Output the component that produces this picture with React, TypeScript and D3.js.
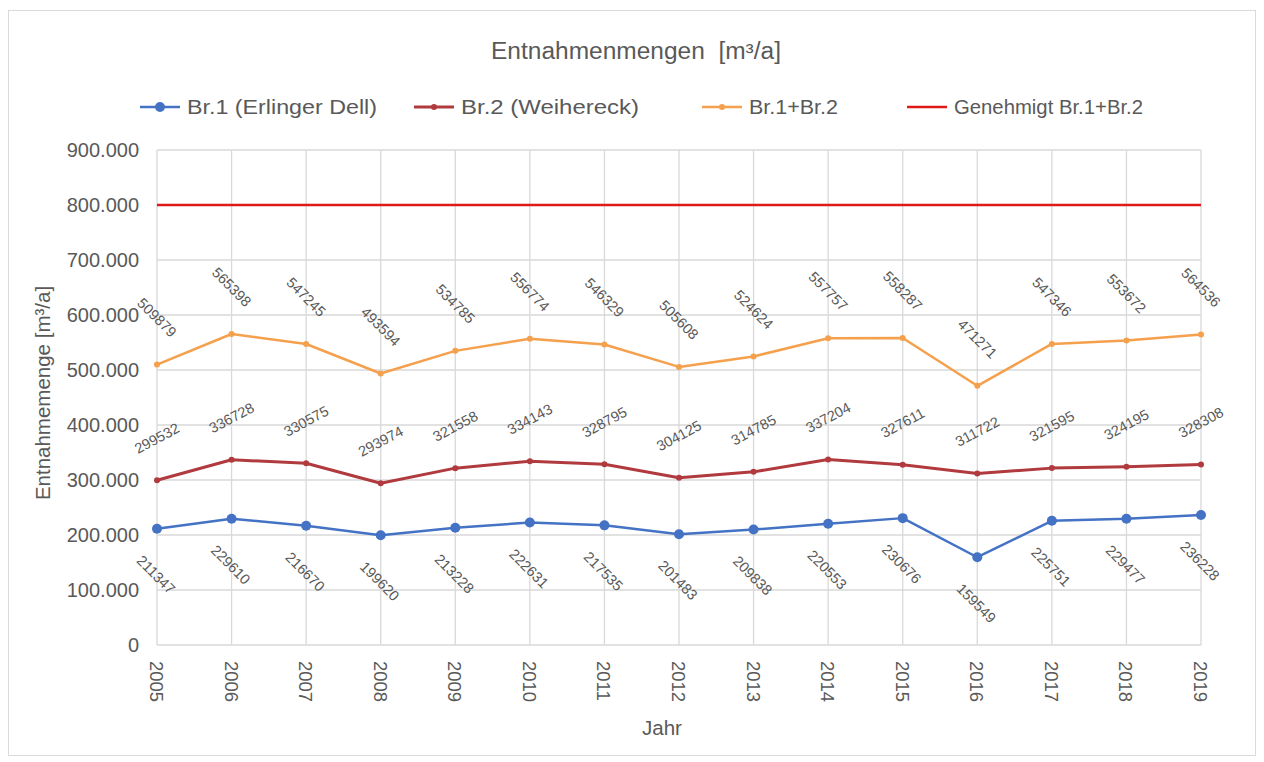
import React from "react";
import * as d3 from "d3";

const years = ["2005","2006","2007","2008","2009","2010","2011","2012","2013","2014","2015","2016","2017","2018","2019"];
const br1 = [211347, 229610, 216670, 199620, 213228, 222631, 217535, 201483, 209838, 220553, 230676, 159549, 225751, 229477, 236228];
const br2 = [299532, 336728, 330575, 293974, 321558, 334143, 328795, 304125, 314785, 337204, 327611, 311722, 321595, 324195, 328308];
const sum = [509879, 565398, 547245, 493594, 534785, 556774, 546329, 505608, 524624, 557757, 558287, 471271, 547346, 553672, 564536];
const approved = [800000, 800000, 800000, 800000, 800000, 800000, 800000, 800000, 800000, 800000, 800000, 800000, 800000, 800000, 800000];
const yTicks = [0, 100000, 200000, 300000, 400000, 500000, 600000, 700000, 800000, 900000];

const FONT = "'Liberation Sans', Arial, sans-serif";
const TXT = "#595959";

export default function App() {
  const x = d3.scalePoint<string>().domain(years).range([157, 1201]);
  const y = d3.scaleLinear().domain([0, 900000]).range([645, 150]);
  const line = d3.line<number>().x((_, i) => x(years[i])!).y((d) => y(d));
  const fmt = (v: number) => (v === 0 ? "0" : d3.format(",")(v).replace(/,/g, "."));

  const series = [
    { name: "Br.1 (Erlinger Dell)", data: br1, color: "#4472c4", r: 5, w: 2.5 },
    { name: "Br.2 (Weihereck)", data: br2, color: "#b03a3e", r: 3, w: 3 },
    { name: "Br.1+Br.2", data: sum, color: "#f4a04d", r: 3, w: 2.5 },
    { name: "Genehmigt Br.1+Br.2", data: approved, color: "#e0191b", r: 0, w: 2.5 },
  ];
  const legendX = [140, 414, 702, 907];
  const legendLen = [190, 178, 89, 189];
  const LBL = 14.5;

  return (
    <svg width={1264} height={762} style={{ position: "absolute", left: 0, top: 0, background: "#fff" }} fontFamily={FONT}>
      <rect x={8.5} y={10.5} width={1247} height={745} fill="#fff" stroke="#d9d9d9" />
      <text x={636} y={59} textAnchor="middle" fontSize={23} fill={TXT} style={{ whiteSpace: "pre" }} textLength={290} lengthAdjust="spacingAndGlyphs">Entnahmenmengen  [m³/a]</text>
      {series.map((s, i) => (
        <g key={s.name}>
          <line x1={legendX[i]} x2={legendX[i] + 40} y1={107} y2={107} stroke={s.color} strokeWidth={s.w} />
          {s.r > 0 && <circle cx={legendX[i] + 20} cy={107} r={s.r} fill={s.color} />}
          <text x={legendX[i] + 47} y={114} fontSize={20} fill={TXT} textLength={legendLen[i]} lengthAdjust="spacingAndGlyphs">{s.name}</text>
        </g>
      ))}
      {yTicks.map((t) => (
        <g key={t}>
          <line x1={157} x2={1201} y1={y(t)} y2={y(t)} stroke="#d9d9d9" strokeWidth={1.3} />
          <text x={139} y={y(t) + 7} textAnchor="end" fontSize={20} fill={TXT}>{fmt(t)}</text>
        </g>
      ))}
      {years.map((yr) => (
        <g key={yr}>
          <line x1={x(yr)} x2={x(yr)} y1={150} y2={645} stroke="#d9d9d9" strokeWidth={1.3} />
          <text transform={`translate(${x(yr)! - 7},661) rotate(90)`} fontSize={18.5} fill={TXT}>{yr}</text>
        </g>
      ))}
      <text x={662} y={735} textAnchor="middle" fontSize={20.5} fill={TXT}>Jahr</text>
      <text transform="translate(50,393) rotate(-90)" textAnchor="middle" fontSize={20.5} fill={TXT}>Entnahmemenge [m³/a]</text>
      {series.map((s) => (
        <g key={s.name}>
          <path d={line(s.data)!} fill="none" stroke={s.color} strokeWidth={s.w} strokeLinejoin="round" />
          {s.r > 0 && s.data.map((v, i) => <circle key={i} cx={x(years[i])} cy={y(v)} r={s.r} fill={s.color} />)}
        </g>
      ))}
      {br1.map((v, i) => (
        <text key={"b" + i} transform={`translate(${x(years[i])! - 1},${y(v) + 46}) rotate(45)`} textAnchor="middle" dominantBaseline="central" fontSize={LBL} fill={TXT}>{v}</text>
      ))}
      {br2.map((v, i) => (
        <text key={"r" + i} transform={`translate(${x(years[i])!},${y(v) - 42}) rotate(-28)`} textAnchor="middle" dominantBaseline="central" fontSize={LBL} fill={TXT}>{v}</text>
      ))}
      {sum.map((v, i) => (
        <text key={"o" + i} transform={`translate(${x(years[i])!},${y(v) - 47}) rotate(45)`} textAnchor="middle" dominantBaseline="central" fontSize={LBL} fill={TXT}>{v}</text>
      ))}
    </svg>
  );
}
